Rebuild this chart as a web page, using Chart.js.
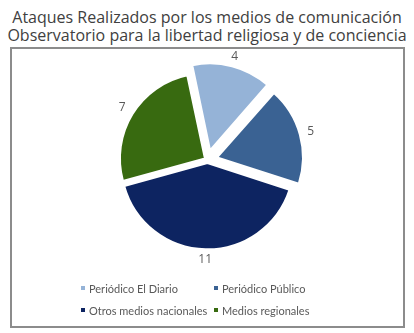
<!DOCTYPE html>
<html>
<head>
<meta charset="utf-8">
<script src="https://cdn.jsdelivr.net/npm/chart.js@4.4.0/dist/chart.umd.min.js"></script>
<style>
  body { margin: 0; background: #fff; }
  #wrap { position: relative; width: 414px; height: 333px; overflow: hidden; }
  #title {
    position: absolute; left: 0; top: 8px; width: 414px;
    text-align: center; font-family: "Open Sans", sans-serif;
    font-size: 16px; line-height: 18px; color: #404040; white-space: nowrap;
  }
  #box {
    position: absolute; left: 10px; top: 47px; width: 395px; height: 281px;
    box-sizing: border-box; border: 2px solid #8c8c8c;
  }
  #box canvas { position: absolute; left: 0; top: 0; }
  #legend {
    position: absolute; left: 69px; top: 231px;
    display: grid; grid-template-columns: 133px 133px; row-gap: 6px;
    font-family: Lato, sans-serif; font-size: 11px; color: #595959;
  }
  #legend div { display: flex; align-items: center; height: 16px; white-space: nowrap; }
  #legend span.sw { width: 4px; height: 4px; margin-right: 4px; display: inline-block; }
</style>
</head>
<body>
<div id="wrap">
  <div id="title">Ataques Realizados por los medios de comunicación<br>Observatorio para la libertad religiosa y de conciencia</div>
  <div id="box">
    <canvas id="pie" width="391" height="277"></canvas>
    <div id="legend"></div>
  </div>
</div>
<script>
// data
const labels = ["Periódico El Diario", "Periódico Público", "Otros medios nacionales", "Medios regionales"];
const values = [4, 5, 11, 7];
const colors = ["#95b3d7", "#3a6293", "#0d2461", "#386a10"];
// Chart.js moves an arc by offset/4 px
const explode = [40, 40, 12, 12];

// value labels outside each slice
const outsideLabels = {
  id: "outsideLabels",
  afterDatasetsDraw(chart) {
    const ctx = chart.ctx;
    const meta = chart.getDatasetMeta(0);
    ctx.save();
    ctx.font = "12px 'Open Sans', sans-serif";
    ctx.fillStyle = "#595959";
    ctx.textAlign = "center";
    ctx.textBaseline = "middle";
    meta.data.forEach((arc, i) => {
      const p = arc.getProps(["x", "y", "startAngle", "endAngle", "outerRadius"], true);
      const mid = (p.startAngle + p.endAngle) / 2;
      const r = p.outerRadius + explode[i] / 4 + 12;
      ctx.fillText(String(values[i]), p.x + Math.cos(mid) * r, p.y + Math.sin(mid) * r);
    });
    ctx.restore();
  }
};

new Chart(document.getElementById("pie"), {
  type: "pie",
  data: {
    labels: labels,
    datasets: [{
      data: values,
      backgroundColor: colors,
      borderColor: "#ffffff",
      borderWidth: 2,
      offset: explode,
      hoverOffset: 0
    }]
  },
  options: {
    responsive: false,
    animation: false,
    rotation: -12,
    layout: { padding: { top: 5, bottom: 60, left: 0, right: 0 } },
    plugins: {
      legend: { display: false },
      tooltip: { enabled: false }
    }
  },
  plugins: [outsideLabels]
});

// two-column legend like the original
const legend = document.getElementById("legend");
labels.forEach((name, i) => {
  const item = document.createElement("div");
  const sw = document.createElement("span");
  sw.className = "sw";
  sw.style.background = colors[i];
  item.appendChild(sw);
  item.appendChild(document.createTextNode(name));
  legend.appendChild(item);
});
</script>
</body>
</html>
